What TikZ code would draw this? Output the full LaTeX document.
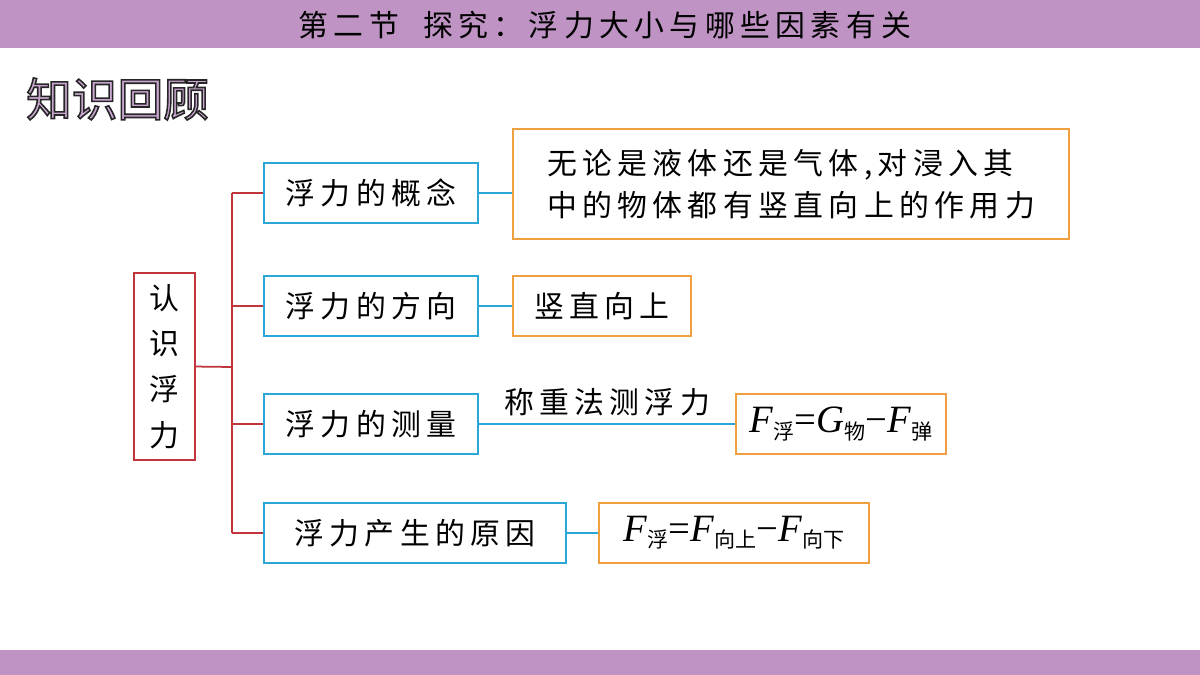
\documentclass[tikz,border=0pt]{standalone}
\usepackage{fontspec}
\setmainfont{Liberation Serif}
\newfontfamily\cjk{Noto Sans CJK SC}
\newfontfamily\cjkw[LetterSpace=18]{Noto Sans CJK SC}
\definecolor{barc}{HTML}{BF93C4}
\definecolor{redc}{HTML}{C0343C}
\definecolor{bluec}{HTML}{2AA7D6}
\definecolor{orc}{HTML}{F0A040}
\definecolor{headc}{HTML}{C9A6CF}
\newcommand{\sbs}[1]{\raisebox{-0.35ex}{\cjk\fontsize{12}{12}\selectfont #1}}
\begin{document}
\begin{tikzpicture}[x=0.02cm,y=-0.02cm,
  bbox/.style={draw=bluec,line width=1.2pt,minimum height=60*0.02cm,anchor=north west,inner sep=0pt,font=\cjkw\fontsize{17}{20}\selectfont},
  obox/.style={draw=orc,line width=1.2pt,anchor=north west,inner sep=0pt,font=\cjkw\fontsize{17}{20}\selectfont},
  rl/.style={draw=redc,line width=1pt},
  bl/.style={draw=bluec,line width=1pt}]
\useasboundingbox (0,0) rectangle (1200,675);
\fill[barc] (0,0) rectangle (1200,48);
\fill[barc] (0,650) rectangle (1200,675);
\node (title) at (605,25) {\cjkw\fontsize{17}{18}\selectfont 第二节\ \ 探究：浮力大小与哪些因素有关};
\node[anchor=west,text=headc,font=\cjk\fontsize{26}{28}\selectfont] (head) at (20,99) {\special{pdf:code 0.15 0.15 0.15 RG 2 Tr 0.9 w}知识回顾\special{pdf:code 0 Tr}};
\node[draw=redc,line width=1.2pt,anchor=north west,minimum width=61*0.02cm,minimum height=187*0.02cm,inner sep=0pt,align=center,font=\cjk\fontsize{17}{26}\selectfont] (root) at (133,272) {认\\识\\浮\\力};
\node[bbox,minimum width=214*0.02cm] (b1) at (263,162) {浮力的概念};
\node[bbox,minimum width=214*0.02cm] (b2) at (263,275) {浮力的方向};
\node[bbox,minimum width=214*0.02cm] (b3) at (263,393) {浮力的测量};
\node[bbox,minimum width=302*0.02cm] (b4) at (263,502) {浮力产生的原因};
\node[obox,minimum width=556*0.02cm,minimum height=110*0.02cm,align=left,font=\cjkw\fontsize{17}{24}\selectfont] (o1) at (512,128) {无论是液体还是气体,对浸入其\\中的物体都有竖直向上的作用力};
\node[obox,minimum width=178*0.02cm,minimum height=60*0.02cm] (o2) at (512,275) {竖直向上};
\node[obox,minimum width=210*0.02cm,minimum height=60*0.02cm,font=\fontsize{22}{24}\selectfont] (o3) at (735,393) {\textit{F}\sbs{浮}=\textit{G}\sbs{物}−\textit{F}\sbs{弹}};
\node[obox,minimum width=270*0.02cm,minimum height=60*0.02cm,font=\fontsize{22}{24}\selectfont] (o4) at (598,502) {\textit{F}\sbs{浮}=\textit{F}\sbs{向上}−\textit{F}\sbs{向下}};
\coordinate (j) at (232,367);
\draw[rl] (root.east) -- (j);
\draw[rl] (j |- b1.west) -- (j |- b4.west);
\foreach \b in {b1,b2,b3,b4} \draw[rl] (j |- \b.west) -- (\b.west);
\draw[bl] (b1.east) -- (o1.west |- b1.east);
\draw[bl] (b2.east) -- (o2.west);
\draw[bl] (b3.east) -- node[above=1pt,font=\cjkw\fontsize{17}{20}\selectfont] (lab) {称重法测浮力} (o3.west);
\draw[bl] (b4.east) -- (o4.west);
\end{tikzpicture}
\end{document}
